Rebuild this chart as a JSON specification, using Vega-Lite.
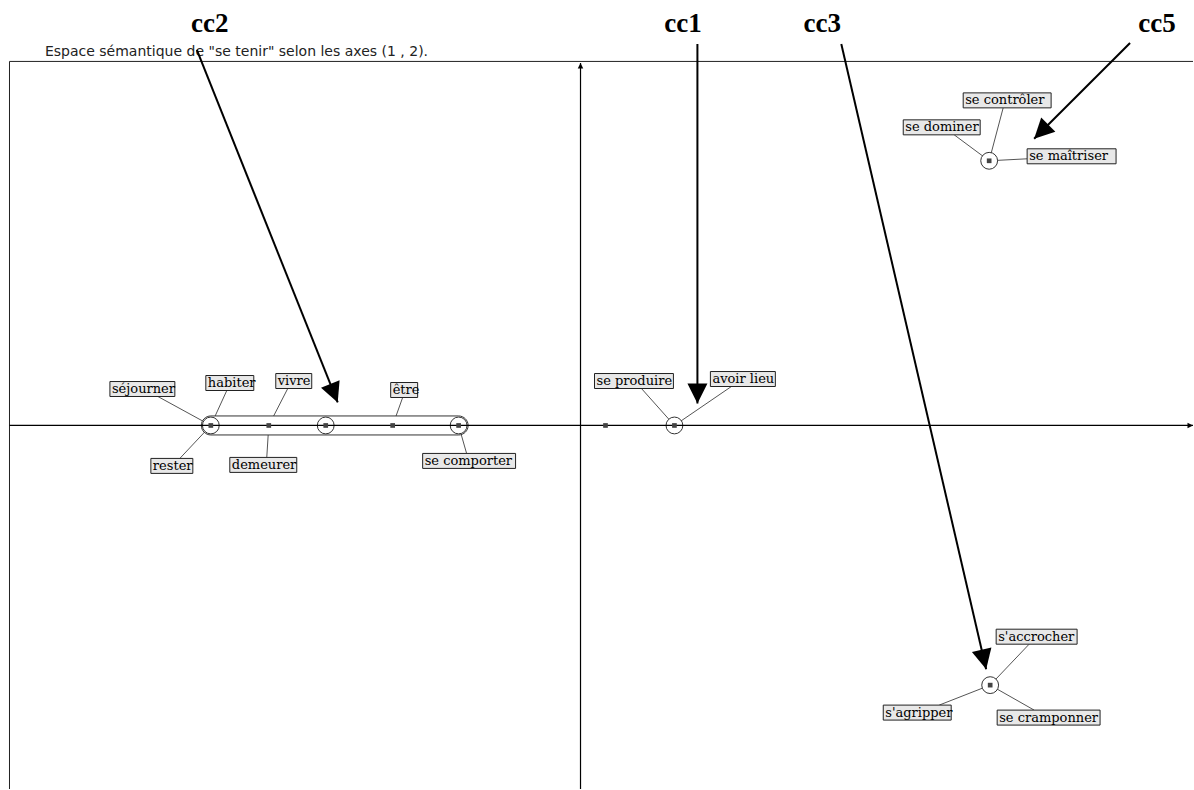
{
  "$schema": "https://vega.github.io/schema/vega-lite/v6.json",
  "width": 1194,
  "height": 790,
  "autosize": {"type": "fit", "contains": "padding"},
  "padding": 0,
  "background": "white",
  "config": {"view": {"stroke": null}},
  "datasets": {
    "cadre": [
      {"trait": "haut", "x": -5.715, "y": 3.645, "x2": 6.13, "y2": 3.645},
      {"trait": "gauche", "x": -5.715, "y": 3.645, "x2": -5.715, "y2": -3.64}
    ],
    "axes": [
      {"axe": "1", "x": -5.715, "y": 0, "x2": 6.13, "y2": 0},
      {"axe": "2", "x": 0, "y": -3.64, "x2": 0, "y2": 3.63}
    ],
    "noeuds": [
      {"noeud": "n1", "x": -3.70, "y": 0, "cercle": true},
      {"noeud": "n2", "x": -3.12, "y": 0, "cercle": false},
      {"noeud": "n3", "x": -2.55, "y": 0, "cercle": true},
      {"noeud": "n4", "x": -1.88, "y": 0, "cercle": false},
      {"noeud": "n5", "x": -1.22, "y": 0, "cercle": true},
      {"noeud": "n6", "x": 0.25, "y": 0, "cercle": false},
      {"noeud": "n7", "x": 0.94, "y": 0, "cercle": true},
      {"noeud": "n8", "x": 4.09, "y": 2.65, "cercle": true},
      {"noeud": "n9", "x": 4.10, "y": -2.60, "cercle": true}
    ],
    "capsules": [
      {"classe": "cc2", "x": -3.70, "x2": -1.22, "y": 0}
    ],
    "mots": [
      {"mot": "séjourner", "x": -3.70, "y": 0, "ax": -4.23, "ay": 0.29, "bx1": -4.71, "bx2": -4.06, "by1": 0.44, "by2": 0.29},
      {"mot": "habiter", "x": -3.70, "y": 0, "ax": -3.54, "ay": 0.35, "bx1": -3.75, "bx2": -3.27, "by1": 0.50, "by2": 0.35},
      {"mot": "rester", "x": -3.70, "y": 0, "ax": -4.01, "ay": -0.33, "bx1": -4.30, "bx2": -3.88, "by1": -0.33, "by2": -0.48},
      {"mot": "vivre", "x": -3.12, "y": 0, "ax": -2.93, "ay": 0.37, "bx1": -3.05, "bx2": -2.69, "by1": 0.52, "by2": 0.37},
      {"mot": "demeurer", "x": -3.12, "y": 0, "ax": -3.14, "ay": -0.32, "bx1": -3.51, "bx2": -2.84, "by1": -0.32, "by2": -0.47},
      {"mot": "être", "x": -1.88, "y": 0, "ax": -1.78, "ay": 0.28, "bx1": -1.90, "bx2": -1.63, "by1": 0.43, "by2": 0.28},
      {"mot": "se comporter", "x": -1.22, "y": 0, "ax": -1.14, "ay": -0.28, "bx1": -1.58, "bx2": -0.65, "by1": -0.28, "by2": -0.43},
      {"mot": "se produire", "x": 0.94, "y": 0, "ax": 0.61, "ay": 0.37, "bx1": 0.14, "bx2": 0.93, "by1": 0.52, "by2": 0.37},
      {"mot": "avoir lieu", "x": 0.94, "y": 0, "ax": 1.51, "ay": 0.39, "bx1": 1.30, "bx2": 1.95, "by1": 0.54, "by2": 0.39},
      {"mot": "se contrôler", "x": 4.09, "y": 2.65, "ax": 4.23, "ay": 3.18, "bx1": 3.83, "bx2": 4.71, "by1": 3.33, "by2": 3.18},
      {"mot": "se dominer", "x": 4.09, "y": 2.65, "ax": 3.74, "ay": 2.91, "bx1": 3.23, "bx2": 4.00, "by1": 3.06, "by2": 2.91},
      {"mot": "se maîtriser", "x": 4.09, "y": 2.65, "ax": 4.47, "ay": 2.67, "bx1": 4.47, "bx2": 5.36, "by1": 2.77, "by2": 2.62},
      {"mot": "s'accrocher", "x": 4.10, "y": -2.60, "ax": 4.49, "ay": -2.19, "bx1": 4.16, "bx2": 4.97, "by1": -2.04, "by2": -2.19},
      {"mot": "s'agripper", "x": 4.10, "y": -2.60, "ax": 3.59, "ay": -2.80, "bx1": 3.03, "bx2": 3.71, "by1": -2.80, "by2": -2.95},
      {"mot": "se cramponner", "x": 4.10, "y": -2.60, "ax": 4.54, "ay": -2.85, "bx1": 4.17, "bx2": 5.20, "by1": -2.85, "by2": -3.00}
    ],
    "fleches": [
      {"classe": "cc2", "x": -3.84, "y": 3.76, "x2": -2.43, "y2": 0.23},
      {"classe": "cc1", "x": 1.17, "y": 3.82, "x2": 1.17, "y2": 0.22},
      {"classe": "cc3", "x": 2.61, "y": 3.82, "x2": 4.06, "y2": -2.44},
      {"classe": "cc5", "x": 5.50, "y": 3.83, "x2": 4.54, "y2": 2.87}
    ],
    "etiquettes": [
      {"classe": "cc2", "x": -3.71, "y": 3.94},
      {"classe": "cc1", "x": 1.025, "y": 3.94},
      {"classe": "cc3", "x": 2.42, "y": 3.94},
      {"classe": "cc5", "x": 5.77, "y": 3.94}
    ],
    "titre": [
      {"texte": "Espace sémantique de \"se tenir\" selon les axes (1 , 2).", "x": -5.36, "y": 3.70}
    ]
  },
  "layer": [
    {
      "data": {"name": "mots"},
      "mark": {"type": "rule", "color": "#555555", "strokeWidth": 1},
      "encoding": {
        "x": {"field": "x", "type": "quantitative", "scale": {"domain": [-5.81, 6.13], "nice": false, "zero": false}, "axis": null},
        "y": {"field": "y", "type": "quantitative", "scale": {"domain": [-3.64, 4.26], "nice": false, "zero": false}, "axis": null},
        "x2": {"field": "ax"},
        "y2": {"field": "ay"}
      }
    },
    {
      "data": {"name": "capsules"},
      "mark": {"type": "rect", "fill": "white", "stroke": "#333333", "strokeWidth": 1, "cornerRadius": 9.5, "xOffset": -9.5, "x2Offset": 9.5, "yOffset": -9.5, "y2Offset": 9.5},
      "encoding": {
        "x": {"field": "x", "type": "quantitative", "scale": {"domain": [-5.81, 6.13], "nice": false, "zero": false}, "axis": null},
        "x2": {"field": "x2"},
        "y": {"field": "y", "type": "quantitative", "scale": {"domain": [-3.64, 4.26], "nice": false, "zero": false}, "axis": null},
        "y2": {"field": "y"}
      }
    },
    {
      "data": {"name": "noeuds"},
      "transform": [{"filter": "datum.cercle"}],
      "mark": {"type": "point", "shape": "circle", "size": 283, "filled": true, "fill": "white", "stroke": "#333333", "strokeWidth": 1, "opacity": 1},
      "encoding": {
        "x": {"field": "x", "type": "quantitative", "scale": {"domain": [-5.81, 6.13], "nice": false, "zero": false}, "axis": null},
        "y": {"field": "y", "type": "quantitative", "scale": {"domain": [-3.64, 4.26], "nice": false, "zero": false}, "axis": null}
      }
    },
    {
      "data": {"name": "cadre"},
      "mark": {"type": "rule", "color": "#222222", "strokeWidth": 1},
      "encoding": {
        "x": {"field": "x", "type": "quantitative", "scale": {"domain": [-5.81, 6.13], "nice": false, "zero": false}, "axis": null},
        "y": {"field": "y", "type": "quantitative", "scale": {"domain": [-3.64, 4.26], "nice": false, "zero": false}, "axis": null},
        "x2": {"field": "x2"},
        "y2": {"field": "y2"}
      }
    },
    {
      "data": {"name": "axes"},
      "mark": {"type": "rule", "color": "black", "strokeWidth": 1.2},
      "encoding": {
        "x": {"field": "x", "type": "quantitative", "scale": {"domain": [-5.81, 6.13], "nice": false, "zero": false}, "axis": null},
        "y": {"field": "y", "type": "quantitative", "scale": {"domain": [-3.64, 4.26], "nice": false, "zero": false}, "axis": null},
        "x2": {"field": "x2"},
        "y2": {"field": "y2"}
      }
    },
    {
      "data": {"name": "axes"},
      "transform": [{"calculate": "atan2(datum.x2 - datum.x, datum.y2 - datum.y) * 180 / PI", "as": "angle"}],
      "mark": {"type": "point", "shape": "M0,0L-1,2L1,2Z", "size": 30, "filled": true, "color": "black", "opacity": 1},
      "encoding": {
        "x": {"field": "x2", "type": "quantitative", "scale": {"domain": [-5.81, 6.13], "nice": false, "zero": false}, "axis": null},
        "y": {"field": "y2", "type": "quantitative", "scale": {"domain": [-3.64, 4.26], "nice": false, "zero": false}, "axis": null},
        "angle": {"field": "angle", "type": "quantitative", "scale": null}
      }
    },
    {
      "data": {"name": "noeuds"},
      "mark": {"type": "point", "shape": "square", "size": 22, "filled": true, "color": "#444444", "opacity": 1},
      "encoding": {
        "x": {"field": "x", "type": "quantitative", "scale": {"domain": [-5.81, 6.13], "nice": false, "zero": false}, "axis": null},
        "y": {"field": "y", "type": "quantitative", "scale": {"domain": [-3.64, 4.26], "nice": false, "zero": false}, "axis": null}
      }
    },
    {
      "data": {"name": "mots"},
      "mark": {"type": "rect", "fill": "#e8e8e8", "stroke": "#222222", "strokeWidth": 1},
      "encoding": {
        "x": {"field": "bx1", "type": "quantitative", "scale": {"domain": [-5.81, 6.13], "nice": false, "zero": false}, "axis": null},
        "x2": {"field": "bx2"},
        "y": {"field": "by1", "type": "quantitative", "scale": {"domain": [-3.64, 4.26], "nice": false, "zero": false}, "axis": null},
        "y2": {"field": "by2"}
      }
    },
    {
      "data": {"name": "mots"},
      "mark": {"type": "text", "align": "left", "baseline": "alphabetic", "dx": 2, "dy": -3.5, "font": "DejaVu Serif", "fontSize": 13, "color": "black"},
      "encoding": {
        "x": {"field": "bx1", "type": "quantitative", "scale": {"domain": [-5.81, 6.13], "nice": false, "zero": false}, "axis": null},
        "y": {"field": "by2", "type": "quantitative", "scale": {"domain": [-3.64, 4.26], "nice": false, "zero": false}, "axis": null},
        "text": {"field": "mot"}
      }
    },
    {
      "data": {"name": "titre"},
      "mark": {"type": "text", "align": "left", "baseline": "alphabetic", "font": "DejaVu Sans", "fontSize": 14, "color": "#222222"},
      "encoding": {
        "x": {"field": "x", "type": "quantitative", "scale": {"domain": [-5.81, 6.13], "nice": false, "zero": false}, "axis": null},
        "y": {"field": "y", "type": "quantitative", "scale": {"domain": [-3.64, 4.26], "nice": false, "zero": false}, "axis": null},
        "text": {"field": "texte"}
      }
    },
    {
      "data": {"name": "etiquettes"},
      "mark": {"type": "text", "align": "center", "baseline": "alphabetic", "font": "Liberation Serif", "fontSize": 27, "fontWeight": "bold", "color": "black"},
      "encoding": {
        "x": {"field": "x", "type": "quantitative", "scale": {"domain": [-5.81, 6.13], "nice": false, "zero": false}, "axis": null},
        "y": {"field": "y", "type": "quantitative", "scale": {"domain": [-3.64, 4.26], "nice": false, "zero": false}, "axis": null},
        "text": {"field": "classe"}
      }
    },
    {
      "data": {"name": "fleches"},
      "mark": {"type": "rule", "color": "black", "strokeWidth": 2},
      "encoding": {
        "x": {"field": "x", "type": "quantitative", "scale": {"domain": [-5.81, 6.13], "nice": false, "zero": false}, "axis": null},
        "y": {"field": "y", "type": "quantitative", "scale": {"domain": [-3.64, 4.26], "nice": false, "zero": false}, "axis": null},
        "x2": {"field": "x2"},
        "y2": {"field": "y2"}
      }
    },
    {
      "data": {"name": "fleches"},
      "transform": [{"calculate": "atan2(datum.x2 - datum.x, datum.y2 - datum.y) * 180 / PI", "as": "angle"}],
      "mark": {"type": "point", "shape": "M0,0L-1,2L1,2Z", "size": 400, "filled": true, "color": "black", "opacity": 1},
      "encoding": {
        "x": {"field": "x2", "type": "quantitative", "scale": {"domain": [-5.81, 6.13], "nice": false, "zero": false}, "axis": null},
        "y": {"field": "y2", "type": "quantitative", "scale": {"domain": [-3.64, 4.26], "nice": false, "zero": false}, "axis": null},
        "angle": {"field": "angle", "type": "quantitative", "scale": null}
      }
    }
  ]
}
